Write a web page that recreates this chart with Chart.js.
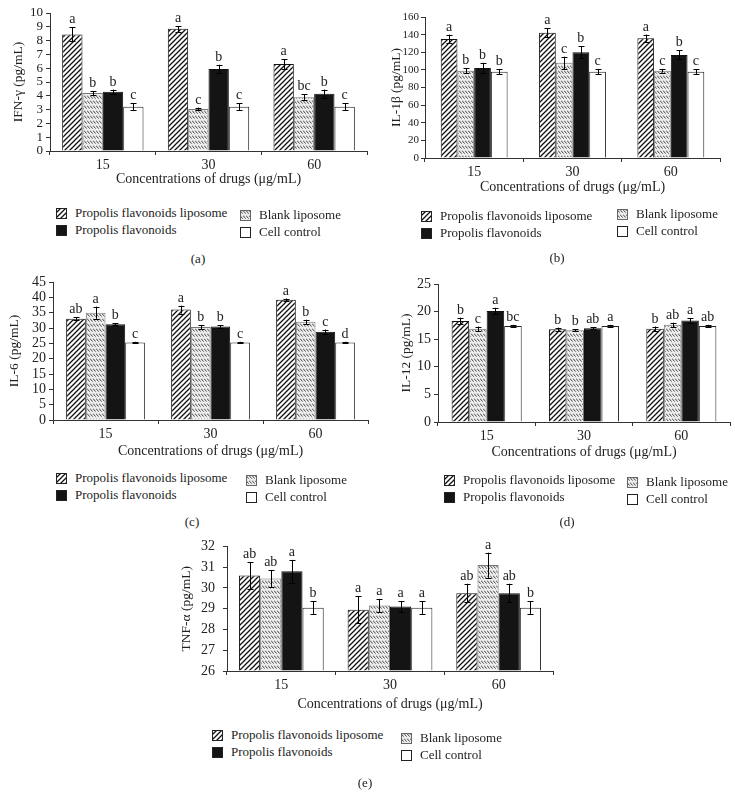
<!DOCTYPE html>
<html>
<head>
<meta charset="utf-8">
<script src="https://cdn.jsdelivr.net/npm/chart.js@4.4.1/dist/chart.umd.min.js"></script>
<style>
  body { margin: 0; background: #fff; width: 735px; height: 797px; position: relative; overflow: hidden;
         font-family: 'Liberation Serif', serif; color: #222; }
  canvas.panel { position: absolute; }
  .leg { position: absolute; font-size: 13px; line-height: 14px; white-space: nowrap; display: flex; align-items: center; }
  .leg canvas { margin-right: 8px; }
  .lab { position: absolute; font-size: 13px; transform: translate(-50%, -50%); }
</style>
</head>
<body>

<script>
// ---- data ----
const categories = ['15', '30', '60'];
const seriesNames = ['Propolis flavonoids liposome', 'Blank liposome', 'Propolis flavonoids', 'Cell control'];

// rows = series (PFL, blank liposome, PF, cell control), cols = 15/30/60
const ifnValues  = [[8.45, 8.85, 6.3], [4.2, 3.05, 3.9], [4.3, 5.95, 4.15], [3.2, 3.2, 3.2]];
const ifnErrors  = [[0.5, 0.2, 0.35], [0.15, 0.1, 0.2], [0.15, 0.3, 0.3], [0.25, 0.25, 0.25]];
const ifnLetters = [['a', 'a', 'a'], ['b', 'c', 'bc'], ['b', 'b', 'b'], ['c', 'c', 'c']];

const il1Values  = [[135, 142, 136], [99, 108, 99], [102, 120, 117], [98, 98, 98]];
const il1Errors  = [[5, 5, 4], [3, 7, 2], [6, 7, 5], [3, 3, 3]];
const il1Letters = [['a', 'a', 'a'], ['b', 'c', 'c'], ['b', 'b', 'b'], ['b', 'c', 'c']];

const il6Values  = [[33, 36, 39.2], [35, 30.3, 32], [31.2, 30.5, 28.8], [25.3, 25.3, 25.3]];
const il6Errors  = [[0.5, 1.3, 0.4], [2, 0.7, 0.7], [0.3, 0.4, 0.7], [0.2, 0.2, 0.2]];
const il6Letters = [['ab', 'a', 'a'], ['a', 'b', 'b'], ['b', 'b', 'c'], ['c', 'c', 'd']];

const il12Values  = [[18.3, 16.8, 16.9], [16.9, 16.6, 17.6], [20.1, 17.0, 18.4], [17.4, 17.4, 17.4]];
const il12Errors  = [[0.6, 0.3, 0.4], [0.4, 0.2, 0.4], [0.6, 0.2, 0.4], [0.2, 0.2, 0.2]];
const il12Letters = [['b', 'b', 'b'], ['c', 'b', 'ab'], ['a', 'ab', 'a'], ['bc', 'a', 'ab']];

const tnfValues  = [[30.6, 28.95, 29.75], [30.45, 29.15, 31.1], [30.8, 29.1, 29.75], [29.05, 29.05, 29.05]];
const tnfErrors  = [[0.65, 0.65, 0.45], [0.4, 0.3, 0.6], [0.55, 0.25, 0.45], [0.3, 0.3, 0.3]];
const tnfLetters = [['ab', 'a', 'ab'], ['ab', 'a', 'a'], ['a', 'a', 'ab'], ['b', 'a', 'b']];

// ---- patterns ----
function diagPattern() {
  const c = document.createElement('canvas');
  c.width = 5; c.height = 5;
  const g = c.getContext('2d');
  g.fillStyle = '#fff'; g.fillRect(0, 0, 5, 5);
  g.strokeStyle = '#111'; g.lineWidth = 1.3;
  g.beginPath();
  g.moveTo(-1, 6); g.lineTo(6, -1);
  g.moveTo(-1, 1); g.lineTo(1, -1);
  g.moveTo(4, 6); g.lineTo(6, 4);
  g.stroke();
  return g.createPattern(c, 'repeat');
}
function dashPattern() {
  const c = document.createElement('canvas');
  c.width = 3; c.height = 5;
  const g = c.getContext('2d');
  g.fillStyle = '#ececec'; g.fillRect(0, 0, 3, 5);
  g.strokeStyle = '#3a3a3a'; g.lineWidth = 0.9;
  g.beginPath();
  g.moveTo(0, 0.5); g.lineTo(2.6, 3.6);
  g.stroke();
  return g.createPattern(c, 'repeat');
}
const fills = [diagPattern(), dashPattern(), '#141414', '#ffffff'];
const borders = ['#111', '#777', '#111', '#222'];

// ---- error bars + letters ----
const errorBars = {
  id: 'errorBars',
  afterDatasetsDraw(chart) {
    const ctx = chart.ctx, y = chart.scales.y;
    ctx.save();
    ctx.strokeStyle = '#000';
    ctx.lineWidth = 1;
    ctx.fillStyle = '#222';
    ctx.font = "14px 'Liberation Serif'";
    ctx.textAlign = 'center';
    ctx.textBaseline = 'alphabetic';
    chart.data.datasets.forEach((ds, i) => {
      chart.getDatasetMeta(i).data.forEach((bar, j) => {
        const v = ds.data[j], e = ds.errors[j];
        const t = y.getPixelForValue(v + e), b = y.getPixelForValue(v - e);
        const x = Math.round(bar.x) + 0.5;
        ctx.beginPath();
        ctx.moveTo(x, t); ctx.lineTo(x, b);
        ctx.moveTo(x - 3, Math.round(t) + 0.5); ctx.lineTo(x + 3, Math.round(t) + 0.5);
        ctx.moveTo(x - 3, Math.round(b) + 0.5); ctx.lineTo(x + 3, Math.round(b) + 0.5);
        ctx.stroke();
        ctx.fillText(ds.letters[j], bar.x, t - 4);
      });
    });
    ctx.restore();
  }
};

const axisFont = { family: "'Liberation Serif', serif", size: 14 };

function panel(p) {
  const cv = document.createElement('canvas');
  cv.className = 'panel';
  cv.width = p.w; cv.height = p.h;
  cv.style.left = p.left + 'px'; cv.style.top = p.top + 'px';
  document.body.appendChild(cv);

  const datasets = seriesNames.map((name, i) => ({
    label: name,
    data: p.values[i],
    errors: p.errors[i],
    letters: p.letters[i],
    backgroundColor: fills[i],
    borderColor: borders[i],
    borderWidth: 1,
    base: p.min,
    categoryPercentage: p.cat,
    barPercentage: 1
  }));

  return new Chart(cv, {
    type: 'bar',
    data: { labels: categories, datasets: datasets },
    plugins: [errorBars],
    options: {
      responsive: false,
      animation: false,
      layout: { padding: { top: p.padTop, right: p.padRight, left: 0, bottom: 0 } },
      plugins: { legend: { display: false }, tooltip: { enabled: false } },
      scales: {
        x: {
          grid: { offset: true, drawOnChartArea: false, tickLength: 4, color: '#333' },
          border: { color: '#333', width: 1 },
          ticks: { font: axisFont, color: '#222', padding: 2 },
          title: { display: true, text: 'Concentrations of drugs (μg/mL)', font: axisFont, color: '#222',
                   padding: { top: 0, bottom: p.xTitlePad } },
          afterFit: s => { s.height = p.xHeight; }
        },
        y: {
          min: p.min, max: p.max,
          grid: { drawOnChartArea: false, tickLength: 4, color: '#333' },
          border: { color: '#333', width: 1 },
          ticks: { stepSize: p.step, autoSkip: false, font: { family: axisFont.family, size: p.yTickSize || 14 },
                   color: '#222', padding: p.yTickPad || 3 },
          title: { display: true, text: p.yTitle, font: { family: axisFont.family, size: 13.5 }, color: '#222',
                   padding: { top: p.yTitlePad, bottom: 0 } },
          afterFit: s => { s.width = p.yWidth; }
        }
      }
    }
  });
}

panel({ values: ifnValues, errors: ifnErrors, letters: ifnLetters, yTitle: 'IFN-γ (pg/mL)',
  min: 0, max: 10, step: 1, left: 0, top: 0, w: 372, h: 195, yWidth: 50, xHeight: 44,
  padTop: 13, padRight: 5, yTitlePad: 10, xTitlePad: 7, cat: 0.77, yTickSize: 13 });
panel({ values: il1Values, errors: il1Errors, letters: il1Letters, yTitle: 'IL-1β (pg/mL)',
  min: 0, max: 160, step: 20, left: 372, top: 0, w: 363, h: 200, yWidth: 53, xHeight: 42,
  padTop: 17, padRight: 15, yTitlePad: 16, xTitlePad: 4, cat: 0.68, yTickSize: 11, yTickPad: 2 });
panel({ values: il6Values, errors: il6Errors, letters: il6Letters, yTitle: 'IL-6 (pg/mL)',
  min: 0, max: 45, step: 5, left: 0, top: 268, w: 372, h: 195, yWidth: 53, xHeight: 43,
  padTop: 14, padRight: 4, yTitlePad: 6, xTitlePad: 3, cat: 0.75 });
panel({ values: il12Values, errors: il12Errors, letters: il12Letters, yTitle: 'IL-12 (pg/mL)',
  min: 0, max: 25, step: 5, left: 372, top: 268, w: 363, h: 195, yWidth: 66, xHeight: 41,
  padTop: 16, padRight: 5, yTitlePad: 26, xTitlePad: 2, cat: 0.72 });
panel({ values: tnfValues, errors: tnfErrors, letters: tnfLetters, yTitle: 'TNF-α (pg/mL)',
  min: 26, max: 32, step: 1, left: 130, top: 530, w: 430, h: 190, yWidth: 97, xHeight: 49,
  padTop: 16, padRight: 7, yTitlePad: 48, xTitlePad: 7, cat: 0.78, yTickPad: 8 });

// ---- legends (HTML) ----
function legendItem(i, x, y) {
  const d = document.createElement('div');
  d.className = 'leg';
  d.style.left = x + 'px'; d.style.top = (y - 7) + 'px';
  const sw = document.createElement('canvas');
  sw.width = 11; sw.height = 11;
  const g = sw.getContext('2d');
  g.fillStyle = fills[i]; g.fillRect(0, 0, 11, 11);
  g.strokeStyle = i === 1 ? '#666' : '#222'; g.lineWidth = 1;
  g.strokeRect(0.5, 0.5, 10, 10);
  d.appendChild(sw);
  d.appendChild(document.createTextNode(seriesNames[i]));
  document.body.appendChild(d);
}
function legend(x1, x2, yl, yr) {
  legendItem(0, x1, yl);
  legendItem(2, x1, yl + 17);
  legendItem(1, x2, yr);
  legendItem(3, x2, yr + 17);
}
legend(56, 240, 213, 215);
legend(421, 617, 216, 214);
legend(56, 246, 478, 480);
legend(444, 627, 480, 482);
legend(212, 401, 735, 738);

function label(t, x, y) {
  const d = document.createElement('div');
  d.className = 'lab';
  d.style.left = x + 'px'; d.style.top = y + 'px';
  d.textContent = t;
  document.body.appendChild(d);
}
label('(a)', 198, 259);
label('(b)', 557, 258);
label('(c)', 192, 522);
label('(d)', 567, 522);
label('(e)', 365, 783);
</script>
</body>
</html>
